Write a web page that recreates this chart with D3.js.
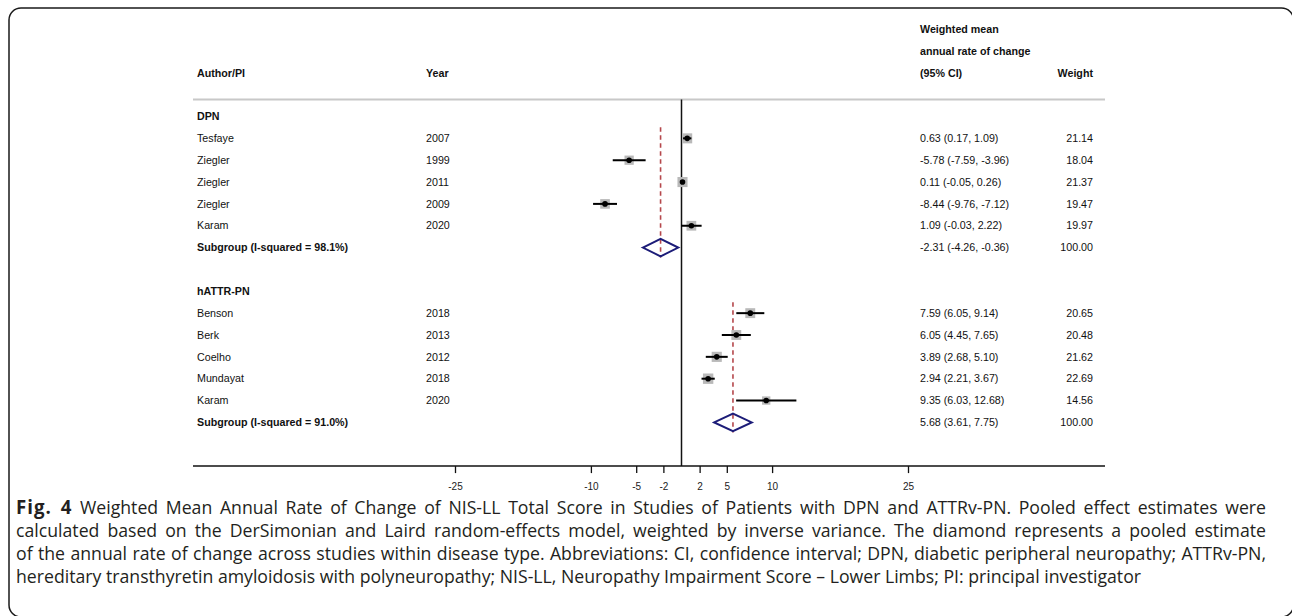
<!DOCTYPE html>
<html><head><meta charset="utf-8">
<script src="https://cdn.jsdelivr.net/npm/d3@7"></script>
<style>
html,body{margin:0;padding:0;background:#fff;}
svg{display:block;}
</style></head>
<body>
<svg id="c" width="1292" height="616"></svg>
<script>
// ---------- data ----------
const groups = ["DPN", "hATTR-PN"];
const groupI2 = ["98.1%", "91.0%"];
const authors = ["Tesfaye","Ziegler","Ziegler","Ziegler","Karam","Benson","Berk","Coelho","Mundayat","Karam"];
const years = [2007,1999,2011,2009,2020,2018,2013,2012,2018,2020];
const studyGroup = [0,0,0,0,0,1,1,1,1,1];
const estimates = [0.63,-5.78,0.11,-8.44,1.09,7.59,6.05,3.89,2.94,9.35];
const lowerCI = [0.17,-7.59,-0.05,-9.76,-0.03,6.05,4.45,2.68,2.21,6.03];
const upperCI = [1.09,-3.96,0.26,-7.12,2.22,9.14,7.65,5.10,3.67,12.68];
const weights = [21.14,18.04,21.37,19.47,19.97,20.65,20.48,21.62,22.69,14.56];
const pooledEst = [-2.31, 5.68];
const pooledLo = [-4.26, 3.61];
const pooledHi = [-0.36, 7.75];
const pooledWeight = [100.00, 100.00];
const tickValues = [-25,-10,-5,-2,2,5,10,25];
const headerLabels = ["Author/PI","Year","Weighted mean","annual rate of change","(95% CI)","Weight"];
const captionBold = "Fig. 4";
const captionLines = [
  " Weighted Mean Annual Rate of Change of NIS-LL Total Score in Studies of Patients with DPN and ATTRv-PN. Pooled effect estimates were",
  "calculated based on the DerSimonian and Laird random-effects model, weighted by inverse variance. The diamond represents a pooled estimate",
  "of the annual rate of change across studies within disease type. Abbreviations: CI, confidence interval; DPN, diabetic peripheral neuropathy; ATTRv-PN,",
  "hereditary transthyretin amyloidosis with polyneuropathy; NIS-LL, Neuropathy Impairment Score \u2013 Lower Limbs; PI: principal investigator"
];

// ---------- build rows ----------
const rows = [];
let r = 0;
groups.forEach((g, gi) => {
  rows.push({type:"group", label:g, row:r++});
  const first = r;
  studyGroup.forEach((sg, i) => {
    if (sg === gi) rows.push({type:"study", i, row:r++});
  });
  rows.push({type:"pooled", gi, row:r++, first});
  r++; // blank
});

const svg = d3.select("#c");
const FONT = "'Liberation Sans', Arial, sans-serif";
const f2 = d3.format(".2f");
const fmt = v => f2(v).replace("\u2212", "-");

const x = d3.scaleLinear().domain([-25, 25]).range([455, 908]);
const y = d3.scaleLinear().domain([0, 16]).range([116.5, 466.1]);
const boxSide = d3.scaleSqrt().domain([0, 100]).range([0, 21.8]);

const colAuthor = 197, colYear = 426, colCI = 920, colWeight = 1093;
const leftEdge = 193, rightEdge = 1105, sepY = 99.5, axisY = y(16);
const TFS = 10.7;

// frame
svg.append("rect").attr("x", 9).attr("y", 8).attr("width", 1284.5).attr("height", 609)
  .attr("rx", 12).attr("fill", "none").attr("stroke", "#1a1a1a").attr("stroke-width", 1.5);

// header
const hdr = svg.append("g").attr("font-family", FONT).attr("font-size", TFS)
  .attr("font-weight", "bold").attr("fill", "#111");
hdr.append("text").attr("x", colAuthor).attr("y", y(-2)).attr("dy", "0.35em").text(headerLabels[0]);
hdr.append("text").attr("x", colYear).attr("y", y(-2)).attr("dy", "0.35em").text(headerLabels[1]);
hdr.append("text").attr("x", colCI).attr("y", y(-4)).attr("dy", "0.35em").text(headerLabels[2]);
hdr.append("text").attr("x", colCI).attr("y", y(-3)).attr("dy", "0.35em").text(headerLabels[3]);
hdr.append("text").attr("x", colCI).attr("y", y(-2)).attr("dy", "0.35em").text(headerLabels[4]);
hdr.append("text").attr("x", colWeight).attr("y", y(-2)).attr("dy", "0.35em").attr("text-anchor", "end").text(headerLabels[5]);

// separator
svg.append("line").attr("x1", leftEdge).attr("x2", rightEdge).attr("y1", sepY).attr("y2", sepY)
  .attr("stroke", "#c8c8c8").attr("stroke-width", 2);

// zero line
svg.append("line").attr("x1", x(0)).attr("x2", x(0)).attr("y1", sepY).attr("y2", axisY)
  .attr("stroke", "#111").attr("stroke-width", 1.5);

// dashed pooled lines
rows.filter(d => d.type === "pooled").forEach(d => {
  svg.append("line").attr("x1", x(pooledEst[d.gi])).attr("x2", x(pooledEst[d.gi]))
    .attr("y1", y(d.first) - 11).attr("y2", y(d.row) + 10)
    .attr("stroke", "#b5474b").attr("stroke-width", 1.6).attr("stroke-dasharray", "4.5,3.5");
});

// table text
const tbl = svg.append("g").attr("font-family", FONT).attr("font-size", TFS).attr("fill", "#111");
rows.forEach(d => {
  const yy = y(d.row);
  if (d.type === "group") {
    tbl.append("text").attr("x", colAuthor).attr("y", yy).attr("dy", "0.35em")
      .attr("font-weight", "bold").text(d.label);
  } else if (d.type === "study") {
    const i = d.i;
    tbl.append("text").attr("x", colAuthor).attr("y", yy).attr("dy", "0.35em").text(authors[i]);
    tbl.append("text").attr("x", colYear).attr("y", yy).attr("dy", "0.35em").text(years[i]);
    tbl.append("text").attr("x", colCI).attr("y", yy).attr("dy", "0.35em")
      .text(`${fmt(estimates[i])} (${fmt(lowerCI[i])}, ${fmt(upperCI[i])})`);
    tbl.append("text").attr("x", colWeight).attr("y", yy).attr("dy", "0.35em").attr("text-anchor", "end")
      .text(fmt(weights[i]));
  } else {
    const g = d.gi;
    tbl.append("text").attr("x", colAuthor).attr("y", yy).attr("dy", "0.35em").attr("font-weight", "bold")
      .text(`Subgroup (I-squared = ${groupI2[g]})`);
    tbl.append("text").attr("x", colCI).attr("y", yy).attr("dy", "0.35em")
      .text(`${fmt(pooledEst[g])} (${fmt(pooledLo[g])}, ${fmt(pooledHi[g])})`);
    tbl.append("text").attr("x", colWeight).attr("y", yy).attr("dy", "0.35em").attr("text-anchor", "end")
      .text(fmt(pooledWeight[g]));
  }
});

// study markers
const studies = rows.filter(d => d.type === "study");
const mk = svg.append("g");
mk.selectAll("rect.box").data(studies).join("rect").attr("class", "box")
  .attr("x", d => x(estimates[d.i]) - boxSide(weights[d.i]) / 2)
  .attr("y", d => y(d.row) - boxSide(weights[d.i]) / 2)
  .attr("width", d => boxSide(weights[d.i]))
  .attr("height", d => boxSide(weights[d.i]))
  .attr("fill", "#b9b9b9");
mk.selectAll("line.ci").data(studies).join("line").attr("class", "ci")
  .attr("x1", d => x(lowerCI[d.i])).attr("x2", d => x(upperCI[d.i]))
  .attr("y1", d => y(d.row)).attr("y2", d => y(d.row))
  .attr("stroke", "#000").attr("stroke-width", 2);
mk.selectAll("circle.pt").data(studies).join("circle").attr("class", "pt")
  .attr("cx", d => x(estimates[d.i])).attr("cy", d => y(d.row)).attr("r", 2.8).attr("fill", "#000");

// diamonds
const pooled = rows.filter(d => d.type === "pooled");
svg.append("g").selectAll("path").data(pooled).join("path")
  .attr("d", d => {
    const yy = y(d.row), h = 8.7;
    return `M${x(pooledLo[d.gi])},${yy}L${x(pooledEst[d.gi])},${yy - h}L${x(pooledHi[d.gi])},${yy}L${x(pooledEst[d.gi])},${yy + h}Z`;
  })
  .attr("fill", "none").attr("stroke", "#1c1c78").attr("stroke-width", 2);

// axis
svg.append("line").attr("x1", leftEdge).attr("x2", rightEdge).attr("y1", axisY).attr("y2", axisY)
  .attr("stroke", "#111").attr("stroke-width", 1.5);
const ax = svg.append("g").attr("transform", `translate(0,${axisY})`)
  .call(d3.axisBottom(x).tickValues(tickValues).tickSize(7).tickPadding(10).tickFormat(d => String(d)));
ax.select(".domain").remove();
ax.selectAll(".tick line").attr("stroke", "#111").attr("stroke-width", 1.3);
ax.selectAll(".tick text").attr("font-family", FONT).attr("font-size", 10).attr("fill", "#222");

// caption
const capX = 16, capRight = 1266, capFS = 18;
const capY = [508, 531, 554, 577];
const capG = svg.append("g").attr("font-family", "'Open Sans', 'Noto Sans', sans-serif")
  .attr("font-size", capFS).attr("fill", "#231f20");
const capTexts = captionLines.map((line, k) => {
  const g = capG.append("g");
  const t = g.append("text").attr("x", 0).attr("y", capY[k]).attr("dy", "0.35em");
  if (k === 0) t.append("tspan").attr("font-weight", "bold").attr("font-size", 19).attr("letter-spacing", 1).text(captionBold);
  t.append("tspan").text(line);
  return {g, t};
});
// horizontal compression from last (unjustified) line, whose right edge is ~1142
const lastW = capTexts[3].t.node().getComputedTextLength();
const c = (1142 - capX) / lastW;
capTexts.forEach((o, k) => {
  o.g.attr("transform", `translate(${capX},0) scale(${c},1)`);
  if (k < 3) {
    const w = o.t.node().getComputedTextLength();
    const target = (capRight - capX) / c;
    const full = (k === 0 ? captionBold : "") + captionLines[k];
    const gaps = (full.match(/ /g) || []).length;
    o.t.attr("word-spacing", (target - w) / gaps);
  }
});
</script>
</body></html>
